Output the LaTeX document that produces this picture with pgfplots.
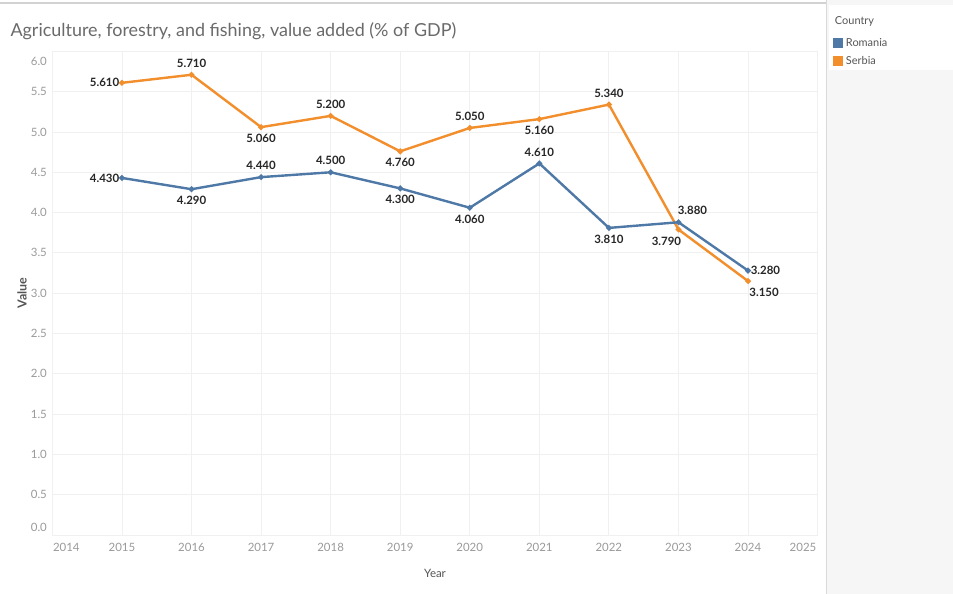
\documentclass[border=0pt]{standalone}
\usepackage{fontspec}
\setmainfont{Lato}
\usepackage{pgfplots}
\pgfplotsset{compat=1.18}
\definecolor{rom}{HTML}{4E79A7}
\definecolor{ser}{HTML}{F28E2B}
\definecolor{gridc}{HTML}{F0F0F0}
\definecolor{tickc}{HTML}{9A9A9A}
\definecolor{titlec}{HTML}{6A6A6A}
\definecolor{labc}{HTML}{555555}
\pgfplotsset{
  lbl/.style={draw=none, mark=none, forget plot,
    nodes near coords={\pgfmathprintnumber[fixed,fixed zerofill,precision=3]{\pgfplotspointmeta}},
    every node near coord/.append style={font=\bfseries\fontsize{11.5}{13}\selectfont, text=black!85, inner sep=1.5bp, #1}},
}
\begin{document}
\begin{tikzpicture}[x=1bp,y=1bp]
\useasboundingbox (0,0) rectangle (953,594);
\fill[white] (0,0) rectangle (953,594);
\fill[gray!7] (826,0) rectangle (953,594);
\draw[gray!30] (826,0) -- (826,594);
\fill[white] (829,524) rectangle (953,589);
\draw[gray!35, line width=1.5bp] (0,591) -- (826,591);
\node[anchor=west, text=titlec, font=\fontsize{18}{22}\selectfont] at (7,563) {Agriculture, forestry, and fishing, value added (\% of GDP)};
\begin{axis}[
  at={(52.4bp,59bp)}, anchor=south west,
  scale only axis, width=765.2bp, height=483.6bp,
  xmin=2014, xmax=2025, ymin=0, ymax=6,
  clip=false,
  axis line style={draw=none},
  major tick length=0pt,
  grid=major, grid style={gridc, line width=0.8bp},
  xtick={2014,...,2025},
  xticklabels={,2015,2016,2017,2018,2019,2020,2021,2022,2023,2024,},
  ytick={0,0.5,...,6},
  yticklabels={,0.5,1.0,1.5,2.0,2.5,3.0,3.5,4.0,4.5,5.0,5.5,},
  extra x ticks={2014.2,2024.79},
  extra x tick labels={2014,2025},
  extra y ticks={0.1,5.88},
  extra y tick labels={0.0,6.0},
  extra tick style={grid=none},
  /pgf/number format/assume math mode=true,
  /pgf/number format/1000 sep={},
  ticklabel style={text=tickc, font=\fontsize{11.5}{13}\selectfont},
  xticklabel style={yshift=-5bp},
  yticklabel style={xshift=-2bp},
  xlabel={Year},
  ylabel={\textbf{Value}},
  xlabel style={at={(axis description cs:0.5,-0.0786)}, anchor=center, text=labc, font=\fontsize{11.5}{13}\selectfont},
  ylabel style={at={(axis description cs:-0.0397,0.5)}, anchor=center, text=labc, font=\fontsize{12.5}{14}\selectfont},
  legend style={at={(axis description cs:1.018,1.0794)}, anchor=north west, draw=none, fill=none,
    font=\fontsize{11}{13}\selectfont, text=labc, row sep=4.5bp, inner sep=1bp},
  legend cell align=left,
  legend image code/.code={\fill[#1] (0bp,-4.5bp) rectangle (9bp,4.5bp);},
]
\addlegendimage{empty legend}\addlegendentry{\hspace{-9bp}\raisebox{4bp}{Country}}
\addlegendimage{rom, fill=rom}\addlegendentry{\hspace{2bp}Romania}
\addlegendimage{ser, fill=ser}\addlegendentry{\hspace{2bp}Serbia}

% Serbia
\addplot[ser, line width=2.4bp, mark=*, mark size=1.5bp, forget plot] coordinates {
(2015,5.61) (2016,5.71) (2017,5.06) (2018,5.20) (2019,4.76) (2020,5.05) (2021,5.16) (2022,5.34) (2023,3.79) (2024,3.15)};
% Romania
\addplot[rom, line width=2.4bp, mark=*, mark size=1.5bp, forget plot] coordinates {
(2015,4.43) (2016,4.29) (2017,4.44) (2018,4.50) (2019,4.30) (2020,4.06) (2021,4.61) (2022,3.81) (2023,3.88) (2024,3.28)};

% Labels Serbia
\addplot[lbl={anchor=east, xshift=-1bp}] coordinates {(2015,5.61)};
\addplot[lbl={anchor=south, yshift=5.5bp}] coordinates {(2016,5.71) (2018,5.20) (2020,5.05) (2022,5.34)};
\addplot[lbl={anchor=north, yshift=-5.5bp}] coordinates {(2017,5.06) (2019,4.76) (2021,5.16)};
\addplot[lbl={anchor=north, yshift=-5.5bp, xshift=-12bp}] coordinates {(2023,3.79)};
\addplot[lbl={anchor=north, yshift=-5.5bp, xshift=16bp}] coordinates {(2024,3.15)};
% Labels Romania
\addplot[lbl={anchor=east, xshift=-1bp}] coordinates {(2015,4.43)};
\addplot[lbl={anchor=south, yshift=5.5bp}] coordinates {(2017,4.44) (2018,4.50) (2021,4.61)};
\addplot[lbl={anchor=north, yshift=-5.5bp}] coordinates {(2016,4.29) (2019,4.30) (2020,4.06) (2022,3.81)};
\addplot[lbl={anchor=south, yshift=5.5bp, xshift=14bp}] coordinates {(2023,3.88)};
\addplot[lbl={anchor=west, xshift=1bp}] coordinates {(2024,3.28)};
\end{axis}
\end{tikzpicture}
\end{document}
